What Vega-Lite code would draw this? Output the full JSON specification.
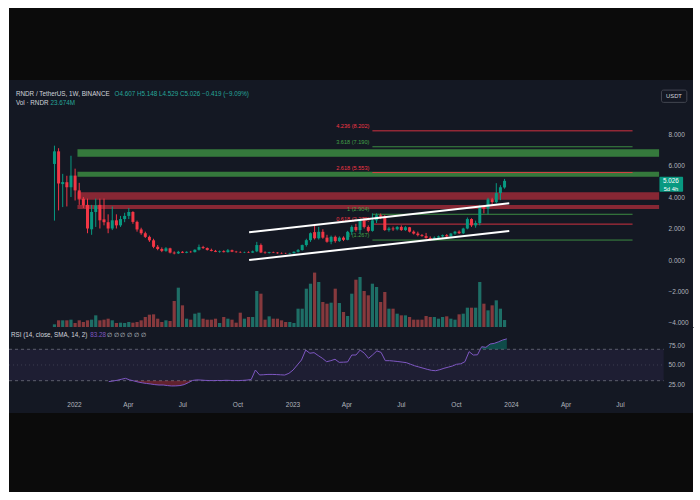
{
  "$schema": "https://vega.github.io/schema/vega-lite/v6.json",
  "background": "#ffffff",
  "padding": {"left": 8, "right": 8, "top": 8, "bottom": 8},
  "spacing": 0,
  "config": {
    "view": {"stroke": null},
    "font": "Liberation Sans",
    "text": {"font": "Liberation Sans"},
    "axis": {"labelFont": "Liberation Sans", "labelColor": "#b2b5be", "labelFontSize": 6.5, "grid": false, "domain": false, "ticks": false}
  },
  "datasets": {
    "candles": [
      {"t":"2021-11-22","o":6.1,"h":7.26,"l":2.5,"c":6.9,"v":9.1},
      {"t":"2021-11-29","o":6.9,"h":7.1,"l":3.15,"c":4.86,"v":22.7},
      {"t":"2021-12-06","o":4.82,"h":5.47,"l":3.36,"c":4.95,"v":22.7},
      {"t":"2021-12-13","o":4.94,"h":5.35,"l":3.4,"c":4.62,"v":22.7},
      {"t":"2021-12-20","o":4.62,"h":6.62,"l":4.0,"c":5.36,"v":24.9},
      {"t":"2021-12-27","o":5.36,"h":5.8,"l":3.78,"c":4.42,"v":13.6},
      {"t":"2022-01-03","o":4.42,"h":4.9,"l":3.5,"c":3.89,"v":22.7},
      {"t":"2022-01-10","o":3.89,"h":4.0,"l":3.3,"c":3.47,"v":17.0},
      {"t":"2022-01-17","o":3.5,"h":3.9,"l":1.7,"c":2.0,"v":22.7},
      {"t":"2022-01-24","o":1.95,"h":3.5,"l":1.6,"c":3.05,"v":24.9},
      {"t":"2022-01-31","o":3.05,"h":3.9,"l":2.1,"c":3.47,"v":39.7},
      {"t":"2022-02-07","o":3.5,"h":3.9,"l":2.0,"c":2.52,"v":22.7},
      {"t":"2022-02-14","o":2.58,"h":3.9,"l":2.2,"c":2.4,"v":24.9},
      {"t":"2022-02-21","o":2.4,"h":2.9,"l":1.7,"c":2.0,"v":28.3},
      {"t":"2022-02-28","o":2.0,"h":3.4,"l":1.9,"c":2.52,"v":22.7},
      {"t":"2022-03-07","o":2.52,"h":2.9,"l":2.0,"c":2.2,"v":13.6},
      {"t":"2022-03-14","o":2.2,"h":2.8,"l":2.1,"c":2.6,"v":14.7},
      {"t":"2022-03-21","o":2.6,"h":3.0,"l":2.4,"c":2.8,"v":13.6},
      {"t":"2022-03-28","o":2.8,"h":3.3,"l":2.6,"c":3.05,"v":17.0},
      {"t":"2022-04-04","o":3.05,"h":3.1,"l":2.3,"c":2.42,"v":14.7},
      {"t":"2022-04-11","o":2.42,"h":2.5,"l":1.8,"c":1.94,"v":17.0},
      {"t":"2022-04-18","o":1.94,"h":2.05,"l":1.6,"c":1.7,"v":22.7},
      {"t":"2022-04-25","o":1.7,"h":1.8,"l":1.4,"c":1.47,"v":34.0},
      {"t":"2022-05-02","o":1.47,"h":1.55,"l":1.15,"c":1.25,"v":41.9},
      {"t":"2022-05-09","o":1.25,"h":1.35,"l":0.75,"c":0.84,"v":43.1},
      {"t":"2022-05-16","o":0.84,"h":0.95,"l":0.62,"c":0.7,"v":28.3},
      {"t":"2022-05-23","o":0.7,"h":0.8,"l":0.5,"c":0.58,"v":17.0},
      {"t":"2022-05-30","o":0.58,"h":0.82,"l":0.52,"c":0.74,"v":22.7},
      {"t":"2022-06-06","o":0.74,"h":0.78,"l":0.42,"c":0.47,"v":20.4},
      {"t":"2022-06-13","o":0.47,"h":0.55,"l":0.36,"c":0.42,"v":88.4},
      {"t":"2022-06-20","o":0.42,"h":0.58,"l":0.38,"c":0.52,"v":133.7},
      {"t":"2022-06-27","o":0.52,"h":0.56,"l":0.44,"c":0.46,"v":73.7},
      {"t":"2022-07-04","o":0.46,"h":0.55,"l":0.43,"c":0.52,"v":28.3},
      {"t":"2022-07-11","o":0.52,"h":0.58,"l":0.46,"c":0.5,"v":24.9},
      {"t":"2022-07-18","o":0.5,"h":0.68,"l":0.48,"c":0.65,"v":45.3},
      {"t":"2022-07-25","o":0.65,"h":0.98,"l":0.6,"c":0.82,"v":48.7},
      {"t":"2022-08-01","o":0.82,"h":0.9,"l":0.7,"c":0.76,"v":28.3},
      {"t":"2022-08-08","o":0.76,"h":0.8,"l":0.6,"c":0.64,"v":24.9},
      {"t":"2022-08-15","o":0.64,"h":0.72,"l":0.55,"c":0.58,"v":24.9},
      {"t":"2022-08-22","o":0.58,"h":0.64,"l":0.5,"c":0.52,"v":28.3},
      {"t":"2022-08-29","o":0.52,"h":0.6,"l":0.46,"c":0.56,"v":13.6},
      {"t":"2022-09-05","o":0.56,"h":0.62,"l":0.48,"c":0.5,"v":34.0},
      {"t":"2022-09-12","o":0.5,"h":0.7,"l":0.47,"c":0.62,"v":28.3},
      {"t":"2022-09-19","o":0.62,"h":0.66,"l":0.5,"c":0.53,"v":24.9},
      {"t":"2022-09-26","o":0.53,"h":0.58,"l":0.46,"c":0.5,"v":14.7},
      {"t":"2022-10-03","o":0.5,"h":0.55,"l":0.45,"c":0.48,"v":48.7},
      {"t":"2022-10-10","o":0.48,"h":0.53,"l":0.44,"c":0.5,"v":28.3},
      {"t":"2022-10-17","o":0.5,"h":0.55,"l":0.45,"c":0.47,"v":34.0},
      {"t":"2022-10-24","o":0.47,"h":0.6,"l":0.45,"c":0.55,"v":34.0},
      {"t":"2022-10-31","o":0.55,"h":1.15,"l":0.5,"c":0.95,"v":122.4},
      {"t":"2022-11-07","o":0.95,"h":1.05,"l":0.44,"c":0.48,"v":113.3},
      {"t":"2022-11-14","o":0.48,"h":0.55,"l":0.4,"c":0.45,"v":24.9},
      {"t":"2022-11-21","o":0.45,"h":0.52,"l":0.41,"c":0.5,"v":36.3},
      {"t":"2022-11-28","o":0.5,"h":0.53,"l":0.45,"c":0.47,"v":28.3},
      {"t":"2022-12-05","o":0.47,"h":0.5,"l":0.4,"c":0.43,"v":28.3},
      {"t":"2022-12-12","o":0.43,"h":0.48,"l":0.39,"c":0.41,"v":22.7},
      {"t":"2022-12-19","o":0.41,"h":0.46,"l":0.38,"c":0.4,"v":17.0},
      {"t":"2022-12-26","o":0.4,"h":0.46,"l":0.38,"c":0.43,"v":17.0},
      {"t":"2023-01-02","o":0.43,"h":0.55,"l":0.41,"c":0.52,"v":13.6},
      {"t":"2023-01-09","o":0.52,"h":0.7,"l":0.48,"c":0.63,"v":62.3},
      {"t":"2023-01-16","o":0.63,"h":0.98,"l":0.6,"c":0.95,"v":62.3},
      {"t":"2023-01-23","o":0.95,"h":1.35,"l":0.85,"c":1.26,"v":130.3},
      {"t":"2023-01-30","o":1.26,"h":1.75,"l":1.15,"c":1.7,"v":147.3},
      {"t":"2023-02-06","o":1.77,"h":2.2,"l":1.3,"c":1.38,"v":185.0},
      {"t":"2023-02-13","o":1.38,"h":2.1,"l":1.3,"c":1.79,"v":153.0},
      {"t":"2023-02-20","o":1.79,"h":1.95,"l":1.35,"c":1.42,"v":85.0},
      {"t":"2023-02-27","o":1.42,"h":1.6,"l":1.1,"c":1.16,"v":79.3},
      {"t":"2023-03-06","o":1.16,"h":1.55,"l":1.0,"c":1.47,"v":82.7},
      {"t":"2023-03-13","o":1.47,"h":1.55,"l":1.1,"c":1.2,"v":130.3},
      {"t":"2023-03-20","o":1.2,"h":1.5,"l":1.15,"c":1.42,"v":81.6},
      {"t":"2023-03-27","o":1.42,"h":1.5,"l":1.2,"c":1.28,"v":51.0},
      {"t":"2023-04-03","o":1.28,"h":1.85,"l":1.25,"c":1.79,"v":37.4},
      {"t":"2023-04-10","o":1.79,"h":2.2,"l":1.6,"c":2.1,"v":113.3},
      {"t":"2023-04-17","o":2.1,"h":2.3,"l":1.8,"c":1.9,"v":160.9},
      {"t":"2023-04-24","o":1.9,"h":2.6,"l":1.7,"c":2.52,"v":170.0},
      {"t":"2023-05-01","o":2.52,"h":2.7,"l":2.0,"c":2.1,"v":122.4},
      {"t":"2023-05-08","o":2.1,"h":2.2,"l":1.75,"c":1.85,"v":107.7},
      {"t":"2023-05-15","o":1.85,"h":2.96,"l":1.8,"c":2.52,"v":147.3},
      {"t":"2023-05-22","o":2.52,"h":2.96,"l":2.35,"c":2.84,"v":136.0},
      {"t":"2023-05-29","o":2.84,"h":2.95,"l":2.6,"c":2.75,"v":85.0},
      {"t":"2023-06-05","o":2.75,"h":2.85,"l":1.85,"c":1.9,"v":119.0},
      {"t":"2023-06-12","o":1.9,"h":2.1,"l":1.8,"c":2.0,"v":62.3},
      {"t":"2023-06-19","o":2.0,"h":2.12,"l":1.85,"c":1.95,"v":62.3},
      {"t":"2023-06-26","o":1.95,"h":2.15,"l":1.88,"c":2.1,"v":45.3},
      {"t":"2023-07-03","o":2.1,"h":2.2,"l":1.85,"c":1.9,"v":39.7},
      {"t":"2023-07-10","o":1.9,"h":2.15,"l":1.85,"c":2.08,"v":39.7},
      {"t":"2023-07-17","o":2.08,"h":2.1,"l":1.75,"c":1.8,"v":34.0},
      {"t":"2023-07-24","o":1.8,"h":1.88,"l":1.62,"c":1.68,"v":24.9},
      {"t":"2023-07-31","o":1.68,"h":1.8,"l":1.5,"c":1.58,"v":24.9},
      {"t":"2023-08-07","o":1.58,"h":1.65,"l":1.48,"c":1.52,"v":24.9},
      {"t":"2023-08-14","o":1.52,"h":1.72,"l":1.35,"c":1.4,"v":37.4},
      {"t":"2023-08-21","o":1.4,"h":1.5,"l":1.25,"c":1.32,"v":34.0},
      {"t":"2023-08-28","o":1.32,"h":1.5,"l":1.27,"c":1.42,"v":34.0},
      {"t":"2023-09-04","o":1.42,"h":1.55,"l":1.38,"c":1.5,"v":28.3},
      {"t":"2023-09-11","o":1.5,"h":1.62,"l":1.42,"c":1.58,"v":34.0},
      {"t":"2023-09-18","o":1.58,"h":1.65,"l":1.45,"c":1.5,"v":36.3},
      {"t":"2023-09-25","o":1.5,"h":1.72,"l":1.47,"c":1.68,"v":28.3},
      {"t":"2023-10-02","o":1.68,"h":1.85,"l":1.6,"c":1.8,"v":24.9},
      {"t":"2023-10-09","o":1.8,"h":1.88,"l":1.65,"c":1.7,"v":43.1},
      {"t":"2023-10-16","o":1.7,"h":2.05,"l":1.65,"c":2.0,"v":45.3},
      {"t":"2023-10-23","o":2.0,"h":2.7,"l":1.95,"c":2.6,"v":65.7},
      {"t":"2023-10-30","o":2.6,"h":2.65,"l":2.1,"c":2.2,"v":65.7},
      {"t":"2023-11-06","o":2.2,"h":2.5,"l":2.05,"c":2.35,"v":65.7},
      {"t":"2023-11-13","o":2.35,"h":3.5,"l":2.2,"c":3.36,"v":153.0},
      {"t":"2023-11-20","o":3.36,"h":3.45,"l":2.96,"c":3.26,"v":79.3},
      {"t":"2023-11-27","o":3.26,"h":3.95,"l":2.9,"c":3.85,"v":56.7},
      {"t":"2023-12-04","o":3.85,"h":3.95,"l":3.5,"c":3.68,"v":73.7},
      {"t":"2023-12-11","o":3.68,"h":4.88,"l":3.6,"c":4.25,"v":90.7},
      {"t":"2023-12-18","o":4.25,"h":4.75,"l":3.8,"c":4.62,"v":62.3},
      {"t":"2023-12-25","o":4.607,"h":5.148,"l":4.529,"c":5.026,"v":23.674}
    ],
    "rsi": [
      {"t":"2022-02-28","r":28.8},{"t":"2022-03-07","r":29.6},{"t":"2022-03-14","r":30.5},{"t":"2022-03-21","r":31.8},
      {"t":"2022-03-28","r":33},{"t":"2022-04-04","r":31},{"t":"2022-04-11","r":29.7},{"t":"2022-04-18","r":28.3},
      {"t":"2022-04-25","r":27.3},{"t":"2022-05-02","r":26.5},{"t":"2022-05-09","r":25.8},{"t":"2022-05-16","r":25},
      {"t":"2022-05-23","r":24.5},{"t":"2022-05-30","r":24.5},{"t":"2022-06-06","r":23.8},{"t":"2022-06-13","r":23.3},
      {"t":"2022-06-20","r":23.4},{"t":"2022-06-27","r":23.8},{"t":"2022-07-04","r":25},{"t":"2022-07-11","r":27.5},
      {"t":"2022-07-18","r":30.3},{"t":"2022-07-25","r":31},{"t":"2022-08-01","r":30.8},{"t":"2022-08-08","r":30.4},
      {"t":"2022-08-15","r":30.2},{"t":"2022-08-22","r":30.1},{"t":"2022-08-29","r":30.3},{"t":"2022-09-05","r":30.2},
      {"t":"2022-09-12","r":30.5},{"t":"2022-09-19","r":30.3},{"t":"2022-09-26","r":30.1},{"t":"2022-10-03","r":30.2},
      {"t":"2022-10-10","r":30.4},{"t":"2022-10-17","r":30.8},{"t":"2022-10-24","r":31.5},{"t":"2022-10-31","r":43.6},
      {"t":"2022-11-07","r":37.3},{"t":"2022-11-14","r":37.6},{"t":"2022-11-21","r":38},{"t":"2022-11-28","r":38},
      {"t":"2022-12-05","r":37.8},{"t":"2022-12-12","r":37.5},{"t":"2022-12-19","r":37.2},{"t":"2022-12-26","r":39.4},
      {"t":"2023-01-02","r":43.6},{"t":"2023-01-09","r":50},{"t":"2023-01-16","r":56.4},{"t":"2023-01-23","r":69},
      {"t":"2023-01-30","r":65},{"t":"2023-02-06","r":65.7},{"t":"2023-02-13","r":62},{"t":"2023-02-20","r":58.5},
      {"t":"2023-02-27","r":54.2},{"t":"2023-03-06","r":55.5},{"t":"2023-03-13","r":57.3},{"t":"2023-03-20","r":53.4},
      {"t":"2023-03-27","r":53.6},{"t":"2023-04-03","r":53.9},{"t":"2023-04-10","r":62.7},{"t":"2023-04-17","r":62.7},
      {"t":"2023-04-24","r":69},{"t":"2023-05-01","r":65},{"t":"2023-05-08","r":58.5},{"t":"2023-05-15","r":63},
      {"t":"2023-05-22","r":68},{"t":"2023-05-29","r":66},{"t":"2023-06-05","r":55.5},{"t":"2023-06-12","r":55.5},
      {"t":"2023-06-19","r":55},{"t":"2023-06-26","r":54.4},{"t":"2023-07-03","r":53.7},{"t":"2023-07-10","r":53},
      {"t":"2023-07-17","r":51},{"t":"2023-07-24","r":49},{"t":"2023-07-31","r":47.5},{"t":"2023-08-07","r":46},
      {"t":"2023-08-14","r":44.5},{"t":"2023-08-21","r":43.2},{"t":"2023-08-28","r":42.7},{"t":"2023-09-04","r":44},
      {"t":"2023-09-11","r":45.8},{"t":"2023-09-18","r":47.2},{"t":"2023-09-25","r":48.7},{"t":"2023-10-02","r":50.9},
      {"t":"2023-10-09","r":51.5},{"t":"2023-10-16","r":54.2},{"t":"2023-10-23","r":67},{"t":"2023-10-30","r":62.7},
      {"t":"2023-11-06","r":63},{"t":"2023-11-13","r":73.3},{"t":"2023-11-20","r":72.5},{"t":"2023-11-27","r":76.7},
      {"t":"2023-12-04","r":77.6},{"t":"2023-12-11","r":79.5},{"t":"2023-12-18","r":81.8},{"t":"2023-12-25","r":83.28}
    ],
    "rsiLow": [
      {"t":"2022-04-11","r":29.7},{"t":"2022-04-18","r":28.3},{"t":"2022-04-25","r":27.3},{"t":"2022-05-02","r":26.5},
      {"t":"2022-05-09","r":25.8},{"t":"2022-05-16","r":25},{"t":"2022-05-23","r":24.5},{"t":"2022-05-30","r":24.5},
      {"t":"2022-06-06","r":23.8},{"t":"2022-06-13","r":23.3},{"t":"2022-06-20","r":23.4},{"t":"2022-06-27","r":23.8},
      {"t":"2022-07-04","r":25},{"t":"2022-07-11","r":27.5},{"t":"2022-07-18","r":30}
    ],
    "rsiHigh": [
      {"t":"2023-11-13","r":73.3},{"t":"2023-11-20","r":72.5},{"t":"2023-11-27","r":76.7},{"t":"2023-12-04","r":77.6},
      {"t":"2023-12-11","r":79.5},{"t":"2023-12-18","r":81.8},{"t":"2023-12-25","r":83.28}
    ],
    "bands": [
      {"kind":"green","t0":"2021-12-31","t1":"2024-09-12","lo":6.56,"hi":7.03},
      {"kind":"green","t0":"2021-12-31","t1":"2024-09-12","lo":5.29,"hi":5.6},
      {"kind":"red","t0":"2021-12-31","t1":"2024-09-12","lo":3.82,"hi":4.3},
      {"kind":"red","t0":"2021-12-31","t1":"2024-09-12","lo":3.24,"hi":3.49}
    ],
    "fib": [
      {"lvl":"0","v":1.267,"t0":"2023-05-15","t1":"2024-07-29","label":"0 (1.267)"},
      {"lvl":"0.618","v":2.279,"t0":"2023-05-15","t1":"2024-07-29","label":"0.618 (2.279)"},
      {"lvl":"1","v":2.904,"t0":"2023-05-15","t1":"2024-07-29","label":"1 (2.904)"},
      {"lvl":"2.618","v":5.553,"t0":"2023-05-15","t1":"2024-07-29","label":"2.618 (5.553)"},
      {"lvl":"3.618","v":7.19,"t0":"2023-05-15","t1":"2024-07-29","label":"3.618 (7.190)"},
      {"lvl":"4.236","v":8.202,"t0":"2023-05-15","t1":"2024-07-29","label":"4.236 (8.202)"}
    ],
    "trend": [
      {"t0":"2022-10-18","t1":"2024-01-02","v0":1.76,"v1":3.6},
      {"t0":"2022-10-18","t1":"2024-01-02","v0":0.0,"v1":1.84}
    ]
  },
  "vconcat": [
    {
      "width": 684, "height": 72,
      "view": {"fill": "#0b0b0b", "stroke": null},
      "data": {"values": []},
      "mark": {"type": "point", "opacity": 0}
    },
    {
      "width": 684, "height": 247,
      "view": {"fill": "#141823", "stroke": null},
      "resolve": {"scale": {"y": "independent"}},
      "layer": [
        {
          "data": {"name": "candles"},
          "mark": {"type": "bar", "size": 3.2},
          "encoding": {
            "x": {"field": "t", "type": "temporal", "scale": {"type": "utc", "domain": [{"year":2021,"month":9,"date":14,"hours":10,"utc":true},{"year":2024,"month":10,"date":31,"utc":true}]}},
            "y": {"field": "v", "type": "quantitative", "scale": {"domain": [0, 840], "nice": false}, "axis": null},
            "color": {"condition": {"test": "datum.c >= datum.o", "value": "#1e6e66"}, "value": "#86393d"}
          }
        },
        {
          "layer": [
            {
              "data": {"name": "bands"},
              "mark": {"type": "rect"},
              "encoding": {
                "x": {"field": "t0", "type": "temporal"},
                "x2": {"field": "t1"},
                "y": {"field": "lo", "type": "quantitative", "scale": {"domain": [-4.254, 11.43], "nice": false, "zero": false}},
                "y2": {"field": "hi"},
                "color": {"field": "kind", "type": "nominal", "scale": {"domain": ["green", "red"], "range": ["#43a047", "#f23645"]}, "legend": null},
                "opacity": {"condition": {"test": "datum.kind == 'green'", "value": 0.72}, "value": 0.52}
              }
            },
            {
              "data": {"name": "fib"},
              "mark": {"type": "rule", "strokeWidth": 1, "opacity": 0.85},
              "encoding": {
                "x": {"field": "t0", "type": "temporal"},
                "x2": {"field": "t1"},
                "y": {"field": "v", "type": "quantitative"},
                "color": {"field": "lvl", "type": "nominal", "scale": {"domain": ["0","0.618","1","2.618","3.618","4.236"], "range": ["#787b86","#089981","#787b86","#f23645","#9c27b0","#e91e63"]}, "legend": null}
              }
            },
            {
              "data": {"name": "fib"},
              "mark": {"type": "text", "align": "right", "baseline": "middle", "dx": -3, "dy": -5, "fontSize": 5.6},
              "encoding": {
                "x": {"field": "t0", "type": "temporal"},
                "y": {"field": "v", "type": "quantitative"},
                "text": {"field": "label"},
                "color": {"field": "lvl", "type": "nominal", "legend": null}
              }
            },
            {
              "data": {"name": "candles"},
              "mark": {"type": "rule", "strokeWidth": 1},
              "encoding": {
                "x": {"field": "t", "type": "temporal"},
                "y": {"field": "l", "type": "quantitative"},
                "y2": {"field": "h"},
                "color": {"condition": {"test": "datum.c >= datum.o", "value": "#089981"}, "value": "#f23645"}
              }
            },
            {
              "data": {"name": "candles"},
              "mark": {"type": "bar", "size": 3},
              "encoding": {
                "x": {"field": "t", "type": "temporal", "axis": {"orient": "bottom", "labels": false, "ticks": false, "domain": true, "domainColor": "#2a2e39", "grid": false, "title": null}},
                "y": {"field": "o", "type": "quantitative", "axis": {"orient": "right", "offset": -29, "values": [-4, -2, 0, 2, 4, 6, 8], "format": ".3f", "labelPadding": 4, "title": null}},
                "y2": {"field": "c"},
                "color": {"condition": {"test": "datum.c >= datum.o", "value": "#089981"}, "value": "#f23645"}
              }
            },
            {
              "data": {"name": "trend"},
              "mark": {"type": "rule", "strokeWidth": 2, "color": "#ffffff"},
              "encoding": {
                "x": {"field": "t0", "type": "temporal"},
                "x2": {"field": "t1"},
                "y": {"field": "v0", "type": "quantitative"},
                "y2": {"field": "v1"}
              }
            },
            {
              "data": {"values": [{"last": 5.026}]},
              "mark": {"type": "rect", "color": "#089981", "cornerRadius": 1},
              "encoding": {
                "x": {"datum": {"year":2024,"month":9,"date":12,"hours":14,"utc":true}, "type": "temporal"},
                "x2": {"datum": {"year":2024,"month":10,"date":22,"hours":17,"utc":true}},
                "y": {"datum": 5.29, "type": "quantitative"},
                "y2": {"datum": 4.34}
              }
            },
            {
              "data": {"values": [{"last": 5.026}]},
              "mark": {"type": "text", "color": "#ffffff", "fontSize": 6.3, "align": "center", "baseline": "middle"},
              "encoding": {
                "x": {"datum": {"year":2024,"month":10,"date":2,"utc":true}, "type": "temporal"},
                "y": {"field": "last", "type": "quantitative"},
                "text": {"field": "last", "format": ".3f"}
              }
            },
            {
              "data": {"values": [{"last": 5.026, "left": "5d 4h"}]},
              "mark": {"type": "text", "color": "#ffffff", "fontSize": 5.8, "align": "center", "baseline": "middle", "dy": 8},
              "encoding": {
                "x": {"datum": {"year":2024,"month":10,"date":2,"utc":true}, "type": "temporal"},
                "y": {"field": "last", "type": "quantitative"},
                "text": {"field": "left"}
              }
            },
            {
              "data": {"values": [{"unit": "USDT"}]},
              "mark": {"type": "rect", "fill": "#131722", "stroke": "#434651", "strokeWidth": 1, "cornerRadius": 2},
              "encoding": {
                "x": {"datum": {"year":2024,"month":9,"date":16,"utc":true}, "type": "temporal"},
                "x2": {"datum": {"year":2024,"month":10,"date":29,"utc":true}},
                "y": {"datum": 10.79, "type": "quantitative"},
                "y2": {"datum": 10.01}
              }
            },
            {
              "data": {"values": [{"unit": "USDT"}]},
              "mark": {"type": "text", "color": "#d1d4dc", "fontSize": 5.8, "align": "center", "baseline": "middle"},
              "encoding": {
                "x": {"datum": {"year":2024,"month":10,"date":7,"hours":7,"utc":true}, "type": "temporal"},
                "y": {"datum": 10.41, "type": "quantitative"},
                "text": {"field": "unit"}
              }
            },
            {
              "data": {"values": [{"txt": "RNDR / TetherUS, 1W, BINANCE"}]},
              "mark": {"type": "text", "color": "#d1d4dc", "fontSize": 6.3, "align": "left", "baseline": "middle"},
              "encoding": {
                "x": {"datum": {"year":2021,"month":9,"date":17,"hours":18,"utc":true}, "type": "temporal"},
                "y": {"datum": 10.54, "type": "quantitative"},
                "text": {"field": "txt"}
              }
            },
            {
              "data": {"values": [{"txt": "O4.607  H5.148  L4.529  C5.026  −0.419 (−9.09%)"}]},
              "mark": {"type": "text", "color": "#26a69a", "fontSize": 6.3, "align": "left", "baseline": "middle"},
              "encoding": {
                "x": {"datum": {"year":2022,"month":3,"date":3,"hours":19,"utc":true}, "type": "temporal"},
                "y": {"datum": 10.54, "type": "quantitative"},
                "text": {"field": "txt"}
              }
            },
            {
              "data": {"values": [{"txt": "Vol · RNDR"}]},
              "mark": {"type": "text", "color": "#d1d4dc", "fontSize": 6.3, "align": "left", "baseline": "middle"},
              "encoding": {
                "x": {"datum": {"year":2021,"month":9,"date":17,"hours":18,"utc":true}, "type": "temporal"},
                "y": {"datum": 9.97, "type": "quantitative"},
                "text": {"field": "txt"}
              }
            },
            {
              "data": {"values": [{"txt": "23.674M"}]},
              "mark": {"type": "text", "color": "#26a69a", "fontSize": 6.3, "align": "left", "baseline": "middle"},
              "encoding": {
                "x": {"datum": {"year":2021,"month":11,"date":15,"hours":5,"utc":true}, "type": "temporal"},
                "y": {"datum": 9.97, "type": "quantitative"},
                "text": {"field": "txt"}
              }
            }
          ]
        }
      ]
    },
    {
      "width": 684, "height": 86,
      "view": {"fill": "#141823", "stroke": null},
      "layer": [
        {
          "data": {"values": [{}]},
          "mark": {"type": "rect", "color": "#7e57c2", "opacity": 0.1},
          "encoding": {
            "x": {"datum": {"year":2021,"month":9,"date":14,"hours":10,"utc":true}, "type": "temporal"},
            "x2": {"datum": {"year":2024,"month":9,"date":12,"utc":true}},
            "y": {"datum": 70, "type": "quantitative", "scale": {"domain": [-11.15, 98.4], "nice": false, "zero": false}},
            "y2": {"datum": 30}
          }
        },
        {
          "data": {"values": [{"lvl": 70}, {"lvl": 30}]},
          "mark": {"type": "rule", "color": "#787b86", "strokeDash": [3, 3], "strokeWidth": 1, "opacity": 0.7},
          "encoding": {
            "x": {"datum": {"year":2021,"month":9,"date":14,"hours":10,"utc":true}, "type": "temporal"},
            "x2": {"datum": {"year":2024,"month":9,"date":12,"utc":true}},
            "y": {"field": "lvl", "type": "quantitative"}
          }
        },
        {
          "data": {"values": [{"lvl": 50}]},
          "mark": {"type": "rule", "color": "#787b86", "strokeDash": [1, 3], "strokeWidth": 1, "opacity": 0.35},
          "encoding": {
            "x": {"datum": {"year":2021,"month":9,"date":14,"hours":10,"utc":true}, "type": "temporal"},
            "x2": {"datum": {"year":2024,"month":9,"date":12,"utc":true}},
            "y": {"field": "lvl", "type": "quantitative"}
          }
        },
        {
          "data": {"name": "rsiLow"},
          "mark": {"type": "area", "color": "#f23645", "opacity": 0.35},
          "encoding": {
            "x": {"field": "t", "type": "temporal"},
            "y": {"field": "r", "type": "quantitative"},
            "y2": {"datum": 30}
          }
        },
        {
          "data": {"name": "rsiHigh"},
          "mark": {"type": "area", "color": "#089981", "opacity": 0.4},
          "encoding": {
            "x": {"field": "t", "type": "temporal"},
            "y": {"field": "r", "type": "quantitative"},
            "y2": {"datum": 70}
          }
        },
        {
          "data": {"name": "rsi"},
          "mark": {"type": "line", "color": "#7e57c2", "strokeWidth": 1},
          "encoding": {
            "x": {"field": "t", "type": "temporal",
              "scale": {"type": "utc", "domain": [{"year":2021,"month":9,"date":14,"hours":10,"utc":true},{"year":2024,"month":10,"date":31,"utc":true}]},
              "axis": {"orient": "bottom", "offset": -14, "labelPadding": 2, "labelFlush": false, "labelOverlap": false, "title": null,
                "values": [
                  {"year":2022,"month":1,"date":1,"utc":true},{"year":2022,"month":4,"date":1,"utc":true},{"year":2022,"month":7,"date":1,"utc":true},{"year":2022,"month":10,"date":1,"utc":true},
                  {"year":2023,"month":1,"date":1,"utc":true},{"year":2023,"month":4,"date":1,"utc":true},{"year":2023,"month":7,"date":1,"utc":true},{"year":2023,"month":10,"date":1,"utc":true},
                  {"year":2024,"month":1,"date":1,"utc":true},{"year":2024,"month":4,"date":1,"utc":true},{"year":2024,"month":7,"date":1,"utc":true}
                ],
                "labelExpr": "utcFormat(datum.value, '%m') == '01' ? utcFormat(datum.value, '%Y') : utcFormat(datum.value, '%b')"}},
            "y": {"field": "r", "type": "quantitative", "axis": {"orient": "right", "offset": -29, "values": [25, 50, 75], "format": ".2f", "labelPadding": 4, "title": null}}
          }
        },
        {
          "data": {"values": [{"txt": "RSI (14, close, SMA, 14, 2)"}]},
          "mark": {"type": "text", "color": "#d1d4dc", "fontSize": 6.3, "align": "left", "baseline": "middle"},
          "encoding": {
            "x": {"datum": {"year":2021,"month":9,"date":17,"hours":18,"utc":true}, "type": "temporal"},
            "y": {"datum": 88.2, "type": "quantitative"},
            "text": {"field": "txt"}
          }
        },
        {
          "data": {"values": [{"txt": "83.28"}]},
          "mark": {"type": "text", "color": "#7e57c2", "fontSize": 6.3, "align": "left", "baseline": "middle"},
          "encoding": {
            "x": {"datum": {"year":2022,"month":1,"date":28,"hours":5,"utc":true}, "type": "temporal"},
            "y": {"datum": 88.2, "type": "quantitative"},
            "text": {"field": "txt"}
          }
        },
        {
          "data": {"values": [{"txt": "∅  ∅  ∅  ∅  ∅  ∅"}]},
          "mark": {"type": "text", "color": "#d1d4dc", "fontSize": 6.3, "align": "left", "baseline": "middle"},
          "encoding": {
            "x": {"datum": {"year":2022,"month":2,"date":25,"utc":true}, "type": "temporal"},
            "y": {"datum": 88.2, "type": "quantitative"},
            "text": {"field": "txt"}
          }
        }
      ]
    },
    {
      "width": 684, "height": 79,
      "view": {"fill": "#0b0b0b", "stroke": null},
      "data": {"values": []},
      "mark": {"type": "point", "opacity": 0}
    }
  ]
}
